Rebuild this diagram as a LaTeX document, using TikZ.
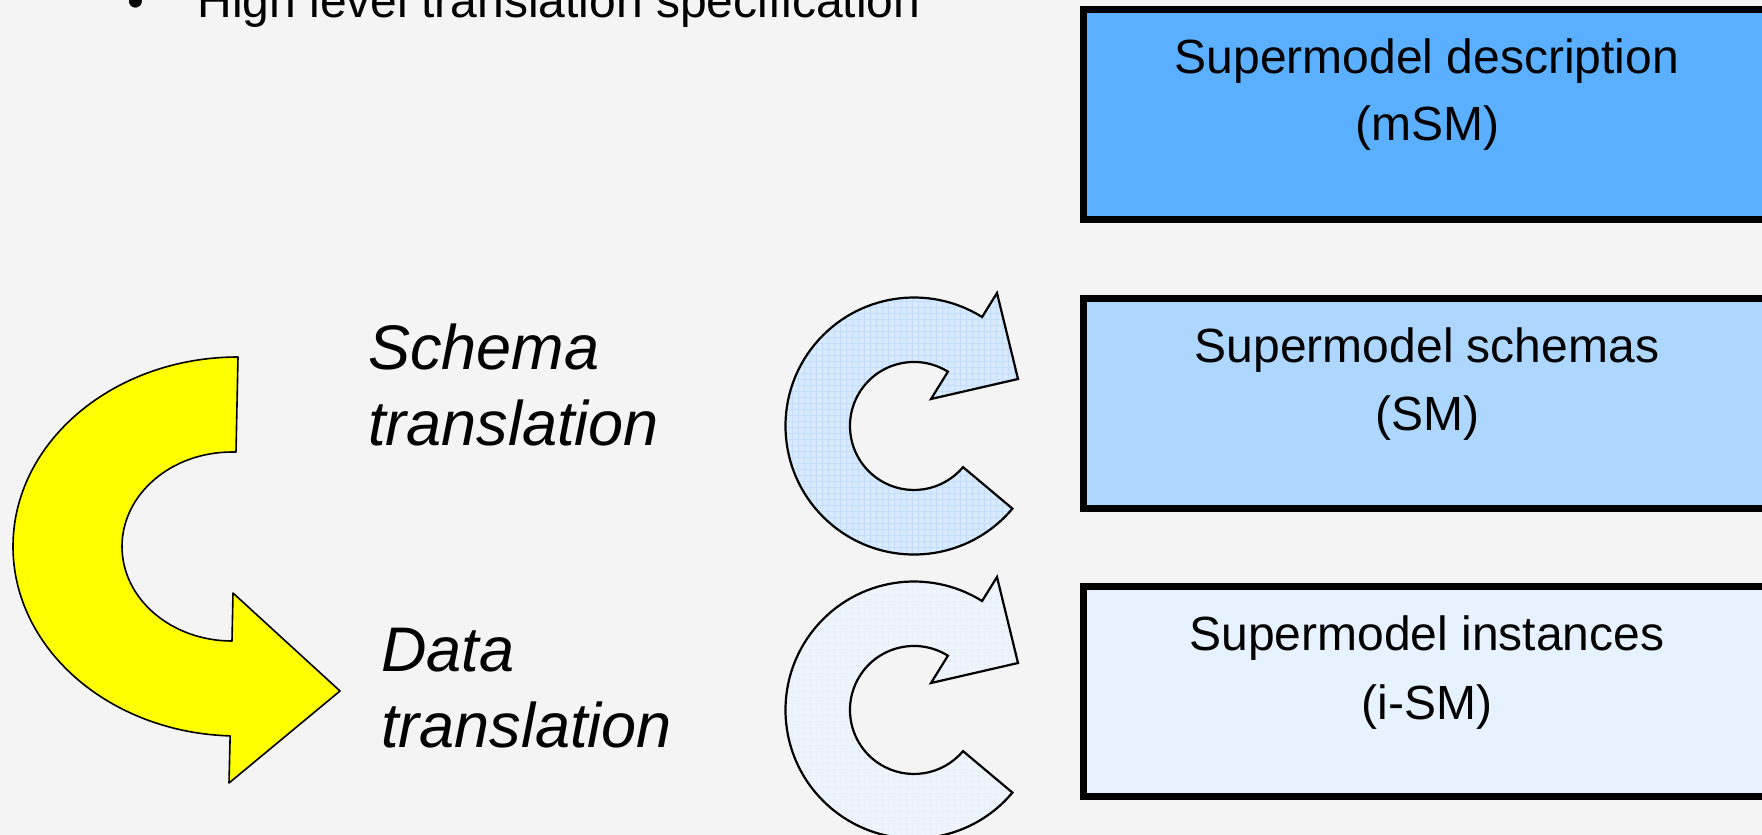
\documentclass[tikz,border=0pt]{standalone}
\usepackage{fontspec}
\setmainfont{Liberation Sans}
\usetikzlibrary{patterns}

\definecolor{pagebg}{RGB}{244,244,244}
\definecolor{msmblue}{RGB}{90,175,255}
\definecolor{smblue}{RGB}{174,215,255}
\definecolor{ismblue}{RGB}{230,242,255}
\definecolor{arrowyellow}{RGB}{255,255,0}
\definecolor{loopfilla}{RGB}{216,234,252}
\definecolor{loopgrida}{RGB}{194,222,252}
\definecolor{loopfillb}{RGB}{238,244,250}
\definecolor{loopgridb}{RGB}{232,240,250}

\tikzset{
  smbox/.style={draw=black, line width=3.5pt, rectangle,
    minimum width=344pt, minimum height=105pt, inner sep=0pt},
  boxtext/.style={font=\fontsize{24}{28}\selectfont, anchor=base, inner sep=0pt},
  toptext/.style={font=\fontsize{24}{28}\selectfont, anchor=base west, inner sep=0pt},
  transtext/.style={font=\fontsize{31.5}{38}\selectfont\itshape, anchor=base west, inner sep=0pt},
  yarrow/.style={draw=black, line width=0.8pt, fill=arrowyellow, line join=round},
  looparrow/.style={draw=black, line width=1.1pt, line join=miter},
}

\begin{document}
\begin{tikzpicture}[x=1pt, y=1pt, xscale=0.5, yscale=-0.5]
  \useasboundingbox (0,0) rectangle (1762,835);
  \clip (0,0) rectangle (1762,835);
  \fill[pagebg] (0,0) rectangle (1762,835);

  % bullet line at the top
  \node[toptext] (bullet) at (127,18) {•};
  \node[toptext] (spec) at (197,18) {High level translation specification};

  % the three supermodel levels
  \node[smbox, fill=msmblue] (msm) at (1427,114) {};
  \node[boxtext] (msmA) at (1427,73) {Supermodel description};
  \node[boxtext] (msmB) at (1427,140) {(mSM)};

  \node[smbox, fill=smblue] (sm) at (1427,403.5) {};
  \node[boxtext] (smA) at (1427,362) {Supermodel schemas};
  \node[boxtext] (smB) at (1427,430) {(SM)};

  \node[smbox, fill=ismblue] (ism) at (1427,691.5) {};
  \node[boxtext] (ismA) at (1427,650) {Supermodel instances};
  \node[boxtext] (ismB) at (1427,719) {(i-SM)};

  % labels
  \node[transtext] (schemaA) at (368,369) {Schema};
  \node[transtext] (schemaB) at (368,445) {translation};
  \node[transtext] (dataA) at (381,671) {Data};
  \node[transtext] (dataB) at (381,747) {translation};

  % big yellow bent arrow
  \draw[yarrow] (238,357)
    arc[start angle=270, end angle=92, x radius=225, y radius=189.5]
    -- (229,783) -- (340,691) -- (233,593) -- (232,641)
    arc[start angle=90, end angle=270, x radius=110, y radius=94.5]
    -- (236,452) -- cycle;

  % circular arrows next to the schema and instance levels
  \draw[looparrow, preaction={fill=loopfilla}, pattern=grid, pattern color=loopgrida]
    (914,426) ++(40:128.5)
    arc[start angle=40, end angle=302, radius=128.5]
    -- (997,293) -- (1018,379) -- (931,399) -- (947.9,371.7)
    arc[start angle=302, end angle=40, radius=64]
    -- cycle;

  \begin{scope}[shift={(0,284)}]
    \draw[looparrow, preaction={fill=loopfillb}, pattern=grid, pattern color=loopgridb]
      (914,426) ++(40:128.5)
      arc[start angle=40, end angle=302, radius=128.5]
      -- (997,293) -- (1018,379) -- (931,399) -- (947.9,371.7)
      arc[start angle=302, end angle=40, radius=64]
      -- cycle;
  \end{scope}
\end{tikzpicture}
\end{document}
